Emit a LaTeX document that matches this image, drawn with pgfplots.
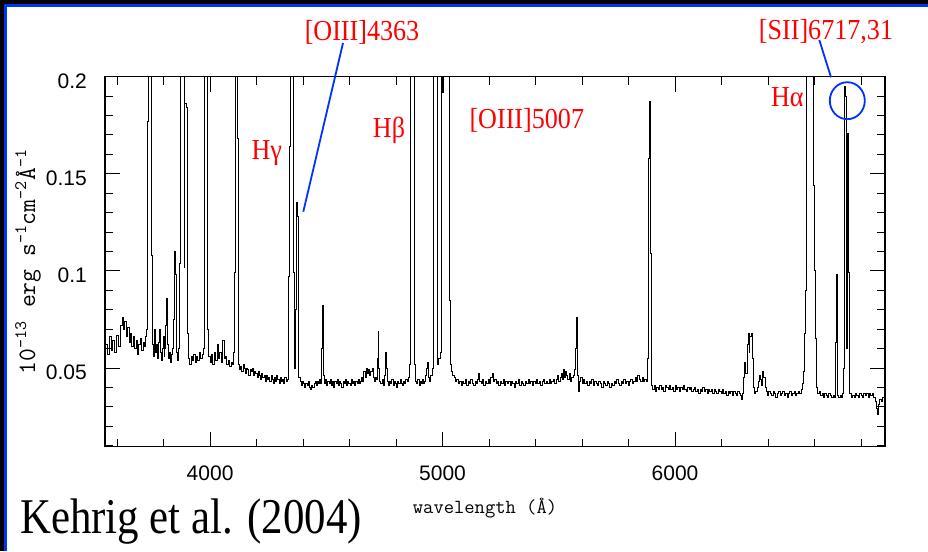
\documentclass[border=0pt]{standalone}
\usepackage{fontspec}
\usepackage{graphicx}
\usepackage{pgfplots}
\pgfplotsset{compat=1.18}
\setmainfont{Liberation Serif}
\setsansfont{Liberation Sans}
\definecolor{annblue}{RGB}{0,50,255}
\definecolor{annred}{RGB}{255,0,0}
\newcommand{\redlab}[1]{\scalebox{0.9}[1]{\fontsize{29}{29}\selectfont\color{annred}#1}}
\begin{document}
\begin{tikzpicture}[x=1pt,y=1pt]
\fill[white] (0,0) rectangle (928,551);
\fill[black] (0,547) rectangle (928,551);
\fill[annblue] (0,544) rectangle (928,547);
\fill[black] (0,0) rectangle (4,551);
\fill[annblue] (4,0) rectangle (7,544);
\begin{axis}[
  at={(105pt,104.3pt)}, anchor=south west,
  scale only axis, width=780pt, height=370pt,
  xmin=3548, xmax=6903, ymin=0.0095, ymax=0.2,
  xtick={4000,5000,6000}, xticklabels={4000,5000,6000},
  minor xtick={3600,3800,4200,4400,4600,4800,5200,5400,5600,5800,6200,6400,6600,6800},
  ytick={0.05,0.1,0.15,0.2}, yticklabels={0.05,0.1,0.15,0.2},
  minor ytick={0.01,0.02,0.03,0.04,0.06,0.07,0.08,0.09,0.11,0.12,0.13,0.14,0.16,0.17,0.18,0.19},
  tick align=inside, xtick pos=both, ytick pos=both,
  major tick length=15pt, minor tick length=8pt,
  every tick/.style={black, line width=1pt},
  axis line style={line width=1.2pt},
  ticklabel style={font=\fontsize{21}{21}\selectfont\sffamily, inner sep=0pt},
  xticklabel style={anchor=center, yshift=-26.3pt},
  yticklabel style={anchor=east, xshift=-18pt, yshift=-4.3pt},
  xlabel={wavelength (Å)},
  xlabel style={font=\fontsize{20}{20}\selectfont\ttfamily, at={(axis description cs:0.4872,-0.1657)}, anchor=center, inner sep=0pt},
  ylabel={10\textsuperscript{-13} erg s\textsuperscript{-1}cm\textsuperscript{-2}Å\textsuperscript{-1}},
  ylabel style={font=\fontsize{25}{25}\selectfont\ttfamily, at={(axis description cs:-0.0987,0.5)}, anchor=center, inner sep=0pt},
]
\addplot[const plot, black, line width=1pt] table {
x y
3550 0.062
3558 0.057
3566 0.066
3574 0.059
3582 0.064
3590 0.058
3598 0.067
3606 0.061
3614 0.072
3622 0.076
3628 0.070
3634 0.074
3640 0.066
3646 0.071
3652 0.063
3658 0.068
3664 0.061
3670 0.066
3676 0.060
3682 0.064
3688 0.057
3694 0.062
3700 0.065
3706 0.059
3712 0.063
3718 0.061
3724 0.066
3728 0.070
3732 0.177
3736 0.30
3746 0.30
3750 0.108
3754 0.062
3758 0.056
3762 0.070
3766 0.058
3770 0.062
3774 0.055
3778 0.063
3782 0.070
3786 0.058
3790 0.054
3794 0.060
3798 0.066
3802 0.056
3806 0.060
3810 0.072
3814 0.086
3818 0.062
3822 0.055
3826 0.058
3830 0.053
3834 0.057
3838 0.060
3842 0.075
3846 0.110
3850 0.098
3854 0.058
3858 0.054
3862 0.056
3866 0.060
3870 0.104
3874 0.30
3884 0.30
3888 0.102
3892 0.186
3897 0.184
3902 0.068
3906 0.055
3912 0.052
3918 0.056
3924 0.054
3930 0.057
3936 0.053
3942 0.056
3948 0.054
3954 0.058
3960 0.055
3966 0.057
3970 0.060
3974 0.174
3978 0.30
3986 0.30
3990 0.070
3994 0.056
4000 0.053
4006 0.057
4012 0.052
4018 0.058
4024 0.054
4030 0.062
4036 0.055
4042 0.058
4048 0.053
4054 0.064
4060 0.055
4066 0.056
4072 0.052
4078 0.054
4084 0.051
4090 0.053
4096 0.052
4100 0.058
4104 0.099
4108 0.30
4114 0.30
4118 0.168
4122 0.052
4127 0.049
4132 0.051
4137 0.048
4142 0.052
4147 0.050
4152 0.047
4157 0.050
4162 0.049
4167 0.046
4172 0.049
4177 0.048
4182 0.050
4187 0.046
4192 0.048
4197 0.047
4202 0.045
4207 0.048
4212 0.046
4217 0.044
4222 0.047
4227 0.045
4232 0.046
4237 0.043
4242 0.046
4247 0.044
4252 0.045
4257 0.043
4262 0.046
4267 0.044
4272 0.042
4277 0.045
4282 0.043
4287 0.046
4292 0.044
4297 0.042
4302 0.045
4307 0.043
4312 0.044
4317 0.042
4322 0.045
4327 0.043
4332 0.044
4336 0.050
4339 0.097
4342 0.164
4346 0.30
4354 0.30
4358 0.099
4364 0.050
4368 0.080
4372 0.135
4377 0.128
4382 0.045
4387 0.043
4392 0.041
4397 0.043
4402 0.042
4407 0.040
4412 0.042
4417 0.041
4422 0.043
4427 0.040
4432 0.039
4437 0.041
4442 0.040
4447 0.042
4452 0.043
4457 0.041
4462 0.043
4467 0.042
4472 0.044
4477 0.042
4481 0.060
4484 0.082
4487 0.046
4492 0.042
4497 0.044
4502 0.041
4507 0.043
4512 0.042
4517 0.044
4522 0.041
4527 0.043
4532 0.040
4537 0.043
4542 0.042
4547 0.044
4552 0.041
4557 0.043
4562 0.042
4567 0.040
4572 0.043
4577 0.042
4582 0.044
4587 0.041
4592 0.043
4597 0.042
4602 0.041
4607 0.044
4612 0.042
4617 0.043
4622 0.041
4627 0.043
4632 0.042
4637 0.044
4642 0.042
4647 0.043
4652 0.045
4657 0.043
4662 0.048
4667 0.045
4672 0.050
4677 0.047
4682 0.049
4687 0.046
4692 0.048
4697 0.050
4702 0.045
4707 0.043
4712 0.045
4717 0.044
4720 0.055
4723 0.069
4726 0.050
4730 0.043
4735 0.042
4740 0.044
4745 0.041
4750 0.046
4754 0.058
4758 0.050
4762 0.043
4767 0.041
4772 0.043
4777 0.042
4782 0.044
4787 0.041
4792 0.043
4797 0.042
4802 0.040
4807 0.043
4812 0.042
4817 0.044
4822 0.042
4827 0.041
4832 0.043
4837 0.042
4842 0.044
4847 0.043
4852 0.045
4856 0.047
4859 0.052
4862 0.30
4876 0.30
4879 0.052
4884 0.043
4889 0.042
4894 0.044
4899 0.041
4904 0.043
4909 0.042
4914 0.044
4919 0.042
4924 0.043
4928 0.046
4931 0.050
4935 0.053
4939 0.045
4944 0.043
4950 0.046
4955 0.050
4959 0.100
4962 0.30
4975 0.30
4978 0.052
4984 0.055
4990 0.058
4994 0.090
4997 0.30
5001 0.192
5004 0.30
5026 0.30
5029 0.085
5033 0.052
5038 0.048
5044 0.046
5050 0.045
5056 0.043
5062 0.044
5068 0.042
5074 0.043
5080 0.041
5086 0.043
5092 0.042
5098 0.044
5104 0.041
5110 0.043
5116 0.042
5122 0.044
5128 0.042
5134 0.041
5140 0.043
5146 0.042
5152 0.044
5156 0.047
5160 0.043
5166 0.042
5172 0.044
5178 0.041
5184 0.043
5190 0.042
5196 0.044
5202 0.042
5208 0.045
5214 0.047
5218 0.043
5224 0.044
5230 0.042
5236 0.043
5242 0.041
5248 0.043
5254 0.042
5260 0.044
5266 0.041
5272 0.043
5278 0.042
5284 0.043
5290 0.041
5296 0.043
5302 0.042
5308 0.040
5314 0.043
5320 0.042
5326 0.044
5332 0.041
5338 0.043
5344 0.042
5350 0.041
5356 0.043
5362 0.042
5368 0.044
5374 0.042
5380 0.043
5386 0.041
5392 0.043
5398 0.042
5404 0.044
5410 0.042
5416 0.043
5422 0.041
5428 0.043
5434 0.044
5440 0.042
5446 0.043
5452 0.042
5458 0.044
5464 0.042
5470 0.043
5476 0.044
5482 0.042
5488 0.044
5494 0.046
5500 0.043
5506 0.045
5510 0.047
5514 0.044
5520 0.049
5524 0.045
5528 0.048
5532 0.046
5538 0.044
5544 0.047
5550 0.043
5556 0.045
5562 0.046
5566 0.049
5570 0.052
5573 0.060
5576 0.076
5579 0.046
5583 0.038
5588 0.043
5594 0.045
5600 0.042
5606 0.044
5612 0.042
5618 0.043
5624 0.041
5630 0.043
5636 0.042
5642 0.044
5648 0.041
5654 0.043
5660 0.042
5666 0.041
5672 0.043
5678 0.042
5684 0.040
5690 0.043
5696 0.042
5702 0.041
5708 0.043
5714 0.042
5720 0.040
5726 0.042
5732 0.041
5738 0.043
5744 0.042
5750 0.044
5756 0.042
5762 0.041
5768 0.043
5774 0.042
5780 0.044
5786 0.042
5792 0.043
5798 0.041
5804 0.043
5810 0.044
5816 0.042
5822 0.043
5828 0.045
5834 0.043
5840 0.046
5846 0.044
5852 0.043
5858 0.045
5864 0.043
5870 0.044
5876 0.043
5880 0.055
5884 0.158
5889 0.187
5894 0.109
5898 0.041
5904 0.039
5910 0.041
5916 0.038
5922 0.040
5928 0.039
5934 0.041
5940 0.039
5946 0.040
5952 0.038
5958 0.041
5964 0.040
5970 0.039
5976 0.041
5982 0.039
5988 0.040
5994 0.038
6000 0.041
6006 0.039
6012 0.040
6018 0.038
6024 0.040
6030 0.039
6036 0.041
6042 0.039
6048 0.038
6054 0.040
6060 0.039
6066 0.040
6072 0.038
6078 0.039
6084 0.040
6090 0.038
6096 0.039
6102 0.037
6108 0.039
6114 0.038
6120 0.040
6126 0.038
6132 0.039
6138 0.037
6144 0.039
6150 0.038
6156 0.039
6162 0.037
6168 0.039
6174 0.038
6180 0.037
6186 0.039
6192 0.038
6198 0.037
6204 0.039
6210 0.037
6216 0.038
6222 0.036
6228 0.038
6234 0.037
6240 0.038
6246 0.036
6252 0.038
6258 0.037
6264 0.036
6270 0.038
6276 0.037
6282 0.036
6286 0.034
6292 0.037
6296 0.045
6300 0.053
6305 0.047
6310 0.062
6314 0.068
6318 0.058
6322 0.066
6327 0.068
6332 0.055
6336 0.040
6342 0.037
6348 0.038
6354 0.040
6358 0.043
6362 0.046
6367 0.044
6372 0.041
6377 0.048
6382 0.045
6387 0.040
6392 0.038
6398 0.036
6404 0.038
6410 0.037
6416 0.036
6422 0.038
6428 0.037
6434 0.035
6440 0.037
6446 0.038
6452 0.036
6458 0.037
6464 0.038
6470 0.036
6476 0.037
6482 0.035
6488 0.037
6494 0.038
6500 0.036
6506 0.037
6512 0.038
6518 0.036
6524 0.037
6530 0.038
6536 0.037
6542 0.039
6548 0.042
6553 0.048
6558 0.068
6563 0.090
6567 0.30
6590 0.30
6594 0.174
6597 0.144
6600 0.100
6604 0.065
6608 0.040
6614 0.037
6620 0.038
6626 0.036
6632 0.037
6638 0.035
6644 0.037
6650 0.036
6656 0.035
6662 0.037
6668 0.036
6674 0.035
6680 0.036
6686 0.035
6690 0.063
6694 0.098
6699 0.036
6704 0.035
6710 0.036
6716 0.035
6720 0.037
6724 0.050
6727 0.138
6730 0.195
6734 0.190
6737 0.060
6741 0.171
6745 0.171
6748 0.099
6752 0.037
6758 0.035
6764 0.036
6770 0.035
6776 0.037
6782 0.036
6788 0.035
6794 0.037
6800 0.036
6806 0.035
6812 0.037
6818 0.036
6824 0.037
6830 0.035
6836 0.037
6842 0.036
6848 0.037
6854 0.035
6860 0.033
6866 0.029
6871 0.026
6876 0.031
6881 0.034
6887 0.033
6893 0.035
6903 0.034
};
\end{axis}
\node[inner sep=0pt] at (362,518.5) {\redlab{[OIII]4363}};
\node[inner sep=0pt] at (826,519) {\redlab{[SII]6717,31}};
\node[inner sep=0pt] at (266.7,398) {\redlab{Hγ}};
\node[inner sep=0pt] at (389,421) {\redlab{Hβ}};
\node[inner sep=0pt] at (526.8,431) {\redlab{[OIII]5007}};
\node[inner sep=0pt] at (787.3,453.5) {\redlab{Hα}};
\draw[annblue, line width=1.8pt] (343,508) -- (303.3,339.3);
\draw[annblue, line width=1.8pt] (819.3,511) -- (831,473.7);
\draw[annblue, line width=1.8pt] (847.3,450.3) ellipse [x radius=17.5, y radius=18.5];
\node[inner sep=0pt] at (191,29) {\scalebox{0.857}[1]{\fontsize{50}{50}\selectfont Kehrig et al. (2004)}};
\end{tikzpicture}
\end{document}
